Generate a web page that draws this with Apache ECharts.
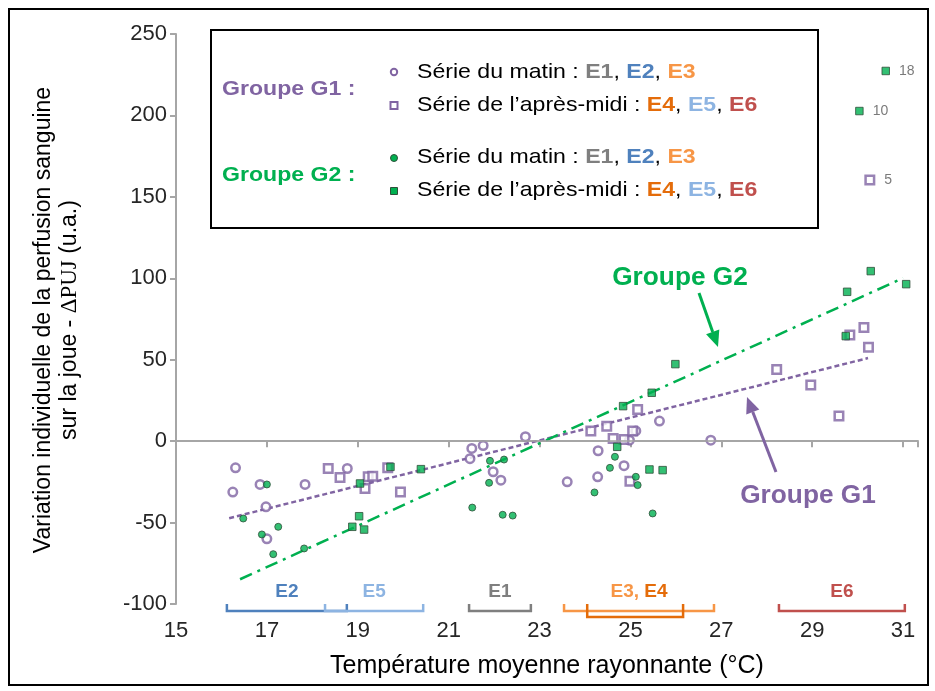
<!DOCTYPE html>
<html>
<head>
<meta charset="utf-8">
<script src="https://cdn.jsdelivr.net/npm/echarts@6/dist/echarts.min.js"></script>
<style>html,body{margin:0;padding:0;background:#fff;}#c{width:935px;height:691px;}</style>
</head>
<body>
<div id="c"></div>
<script>
// ---- data ----
const xTicks = [15, 17, 19, 21, 23, 25, 27, 29, 31];
const yTicks = [-100, -50, 0, 50, 100, 150, 200, 250];

// Groupe G1 – série du matin (open circles)
const g1Matin = [
  [16.31,-16.4],[16.25,-31.3],[16.85,-26.6],[16.98,-40.3],[17.0,-60.0],[17.84,-26.6],[18.77,-16.8],
  [21.51,-4.5],[21.76,-2.7],[21.47,-10.8],[22.69,2.7],[21.98,-18.8],[22.15,-24.0],[23.61,-25.0],
  [24.29,-5.9],[24.28,-21.9],[24.86,-15.1],[25.64,12.3],[24.98,0.6],[25.12,6.3],[26.77,0.6]
];
// Groupe G1 – série de l'après-midi (open squares)
const g1ApresMidi = [
  [18.35,-16.8],[18.61,-22.3],[19.23,-21.9],[19.33,-21.5],[19.16,-29.1],[19.66,-16.4],[19.94,-31.3],
  [24.13,6.3],[24.48,9.2],[25.16,19.4],[24.62,1.6],[24.86,1.0],[25.05,6.3],[24.99,-24.6],
  [28.22,44.0],[28.97,34.4],[29.59,15.4],[29.83,65.1],[30.14,69.8],[30.24,57.6],[30.27,160.3]
];
// Groupe G2 – série du matin (filled circles)
const g2Matin = [
  [17.0,-26.6],[16.48,-47.5],[17.25,-52.6],[16.89,-57.3],[17.14,-69.4],[17.82,-65.9],
  [21.91,-12.1],[22.22,-11.3],[21.89,-25.6],[21.52,-40.8],[22.19,-45.2],[22.41,-45.7],
  [24.66,-9.6],[24.55,-16.4],[25.12,-21.9],[25.16,-27.0],[24.21,-31.5],[25.49,-44.4]
];
// Groupe G2 – série de l'après-midi (filled squares)
const g2ApresMidi = [
  [19.72,-15.8],[20.39,-17.2],[19.05,-26.0],[19.03,-46.1],[18.88,-52.6],[19.14,-54.3],
  [24.71,-3.5],[25.42,-17.4],[25.71,-17.8],[24.84,21.5],[25.47,29.7],[25.99,47.3],
  [29.74,64.5],[29.77,91.7],[30.29,104.4],[31.07,96.4],[30.62,227.3],[30.04,202.7]
];
// annotated outliers: [x, y, label]
const outlierLabels = [[30.62,227.3,'18'],[30.04,202.7,'10'],[30.27,160.3,'5']];

// regression lines (end points)
const g1Trend = [[16.17,-47.3],[30.23,51.0]];
const g2Trend = [[16.41,-84.8],[31.0,100.1]];

// experiment temperature ranges (brackets under the axis)
const bracketNames = ['E2','E5','E1','E3','E4','E6'];
const bracketStart = [16.12,18.28,21.45,23.54,24.05,28.27];
const bracketEnd   = [18.76,20.44,22.81,26.84,26.16,31.04];
const bracketRow   = [0,0,0,0,1,0];
const bracketText  = ['E2','E5','E1','E3, E4','','E6'];

// ---- styles ----
const PURPLE = '#8064A2', GREEN = '#00B050';
const ECOL = {E1:'#7F7F7F',E2:'#4F81BD',E3:'#F79646',E4:'#E46C0A',E5:'#8DB4E2',E6:'#C0504D'};
const FONT = '"Liberation Sans", Arial, sans-serif';
const SX = 1.1;

const chart = echarts.init(document.getElementById('c'), null, {renderer:'canvas'});

function labeled(arr) {
  return arr.map(p => {
    const o = outlierLabels.find(l => l[0] === p[0] && l[1] === p[1]);
    if (!o) return p;
    return {value: p, label: {show: true, position: 'right', distance: 9, formatter: o[2],
      color: '#595959', fontSize: 14, fontFamily: FONT}};
  });
}

function arrow(x1, y1, x2, y2, color) {
  const dx = x2 - x1, dy = y2 - y1, L = Math.hypot(dx, dy);
  const ux = dx / L, uy = dy / L, hl = 16, hw = 7;
  const bx = x2 - ux * hl, by = y2 - uy * hl;
  return [
    {type:'line', z:60, shape:{x1:x1, y1:y1, x2:bx, y2:by}, style:{stroke:color, lineWidth:3}},
    {type:'polygon', z:60, shape:{points:[[x2,y2],[bx - uy*hw, by + ux*hw],[bx + uy*hw, by - ux*hw]]}, style:{fill:color}}
  ];
}

const LF = 21;
const legRich = {n: {fontSize: LF, fontFamily: FONT, fill: '#000', fontWeight: 'normal'}};
Object.keys(ECOL).forEach(k => { legRich[k] = {fontSize: LF, fontFamily: FONT, fill: ECOL[k], fontWeight: 'bold'}; });
const lineMatin = '{n|Série du matin : }{E1|E1}{n|, }{E2|E2}{n|, }{E3|E3}';
const lineAM = '{n|Série de l’après-midi : }{E4|E4}{n|, }{E5|E5}{n|, }{E6|E6}';

function legText(y, txt) {
  return {type:'text', x: 417, y: y, z: 60, scaleX: SX,
    style:{text: txt, rich: legRich, verticalAlign:'middle', align:'left'}};
}

const graphics = [
  {type:'rect', z:100, shape:{x:9, y:9, width:919, height:676}, style:{fill:null, stroke:'#000', lineWidth:2}},
  {type:'rect', z:50, shape:{x:211, y:30, width:607, height:198}, style:{fill:'#fff', stroke:'#000', lineWidth:2}},
  {type:'text', z:60, x:222, y:89, scaleX: SX, style:{text:'Groupe G1 :', font:'bold 21px ' + FONT, fill:PURPLE, verticalAlign:'middle'}},
  {type:'text', z:60, x:222, y:175, scaleX: SX, style:{text:'Groupe G2 :', font:'bold 21px ' + FONT, fill:GREEN, verticalAlign:'middle'}},
  {type:'circle', z:60, shape:{cx:394, cy:72, r:3.2}, style:{fill:'#fff', stroke:PURPLE, lineWidth:2}},
  {type:'rect', z:60, shape:{x:390.5, y:102, width:7, height:7}, style:{fill:'#fff', stroke:PURPLE, lineWidth:2}},
  {type:'circle', z:60, shape:{cx:394, cy:158, r:3.5}, style:{fill:GREEN, stroke:'#2f4f3a', lineWidth:1}},
  {type:'rect', z:60, shape:{x:390.5, y:187.5, width:7, height:7}, style:{fill:GREEN, stroke:'#2f4f3a', lineWidth:1}},
  legText(72, lineMatin), legText(105, lineAM), legText(157, lineMatin), legText(190, lineAM),
  {type:'text', x:57, y:320, rotation: Math.PI/2, z:60, style:{
    text:'{a|Variation individuelle de la perfusion sanguine}\n{a|sur la joue - }{s|ΔPUJ}{a| (u.a.)}',
    align:'center', verticalAlign:'middle',
    rich:{a:{fontSize:23, fontFamily:FONT, fill:'#000', lineHeight:26}, s:{fontSize:23, fontFamily:'"Liberation Serif", serif', fill:'#000', lineHeight:26}}
  }},
  {type:'text', x:680, y:278, z:60, scaleX: 1.05, style:{text:'Groupe G2', font:'bold 25px ' + FONT, fill:GREEN, align:'center', verticalAlign:'middle'}},
  {type:'text', x:808, y:496, z:60, scaleX: 1.05, style:{text:'Groupe G1', font:'bold 25px ' + FONT, fill:PURPLE, align:'center', verticalAlign:'middle'}}
].concat(arrow(699, 293, 718, 347, GREEN), arrow(776, 472, 747, 397, PURPLE));

const bracketData = bracketNames.map((n, i) => [bracketStart[i], bracketEnd[i], bracketRow[i], i]);

const option = {
  animation: false,
  backgroundColor: '#fff',
  grid: {left: 176, top: 34, right: 17, bottom: 87, containLabel: false},
  xAxis: {
    type: 'value', min: 15, max: 31.33, interval: 2,
    name: 'Température moyenne rayonnante (°C)', nameLocation: 'middle', nameGap: 50,
    nameTextStyle: {fontSize: 25, fontFamily: FONT, color: '#000'},
    axisLine: {show: true, lineStyle: {color: '#A6A6A6', width: 2}},
    axisTick: {show: true, inside: false, length: 6, lineStyle: {color: '#A6A6A6', width: 2}},
    axisLabel: {fontSize: 22, fontFamily: FONT, color: '#262626', margin: 16,
      formatter: v => (xTicks.indexOf(v) >= 0 ? String(v) : '')},
    splitLine: {show: false}
  },
  yAxis: {
    type: 'value', min: yTicks[0], max: yTicks[yTicks.length - 1], interval: 50,
    axisLine: {show: true, lineStyle: {color: '#A6A6A6', width: 2}},
    axisTick: {show: true, inside: false, length: 6, lineStyle: {color: '#A6A6A6', width: 2}},
    axisLabel: {fontSize: 22, fontFamily: FONT, color: '#262626', margin: 9},
    splitLine: {show: false}
  },
  graphic: graphics,
  series: [
    {type:'line', data: g1Trend, symbol:'none', z:3, silent:true,
      lineStyle:{color:PURPLE, width:2.5, type:[5,3]},
      markLine:{silent:true, symbol:'none', label:{show:false},
        lineStyle:{color:'#A6A6A6', width:1.5, type:'solid'}, data:[{yAxis:0}]}},
    {type:'line', data: g2Trend, symbol:'none', z:3, silent:true,
      lineStyle:{color:GREEN, width:2.5, type:[13,6,3,6]}},
    {name:'G1 matin', type:'scatter', data: g1Matin, symbol:'circle', symbolSize:8.5, z:4,
      itemStyle:{color:'#fff', borderColor:PURPLE, borderWidth:2.5}},
    {name:'G1 après-midi', type:'scatter', data: labeled(g1ApresMidi), symbol:'rect', symbolSize:8.5, z:4,
      itemStyle:{color:'#fff', borderColor:PURPLE, borderWidth:2.5}},
    {name:'G2 matin', type:'scatter', data: g2Matin, symbol:'circle', symbolSize:7, z:5,
      itemStyle:{color:GREEN, borderColor:'#2f4f3a', borderWidth:1}},
    {name:'G2 après-midi', type:'scatter', data: labeled(g2ApresMidi), symbol:'rect', symbolSize:7.5, z:5,
      itemStyle:{color:GREEN, borderColor:'#2f4f3a', borderWidth:1}},
    {type:'custom', data: bracketData, clip:false, z:6, silent:true,
      renderItem: function (params, api) {
        const i = api.value(3);
        const n = bracketNames[i];
        const s = api.coord([api.value(0), -100]);
        const e = api.coord([api.value(1), -100]);
        const d = api.value(2) ? 13 : 7;
        const children = [{type:'polyline', shape:{points:[[s[0], s[1]], [s[0], s[1] + d], [e[0], e[1] + d], [e[0], e[1]]]},
          style:{stroke: ECOL[n], lineWidth: 2.5, fill: null}}];
        if (bracketText[i]) {
          const txt = bracketText[i] === 'E3, E4' ? '{E3|E3}{c|, }{E4|E4}' : '{' + n + '|' + bracketText[i] + '}';
          const r = {c:{fill:ECOL.E3, fontWeight:'bold', fontSize:19, fontFamily:FONT}};
          Object.keys(ECOL).forEach(k => { r[k] = {fill:ECOL[k], fontWeight:'bold', fontSize:19, fontFamily:FONT}; });
          children.push({type:'text', x:(s[0] + e[0]) / 2, y: s[1] - 12,
            style:{text: txt, rich: r, align:'center', verticalAlign:'middle'}});
        }
        return {type:'group', children: children};
      }}
  ]
};
chart.setOption(option);
</script>
</body>
</html>
